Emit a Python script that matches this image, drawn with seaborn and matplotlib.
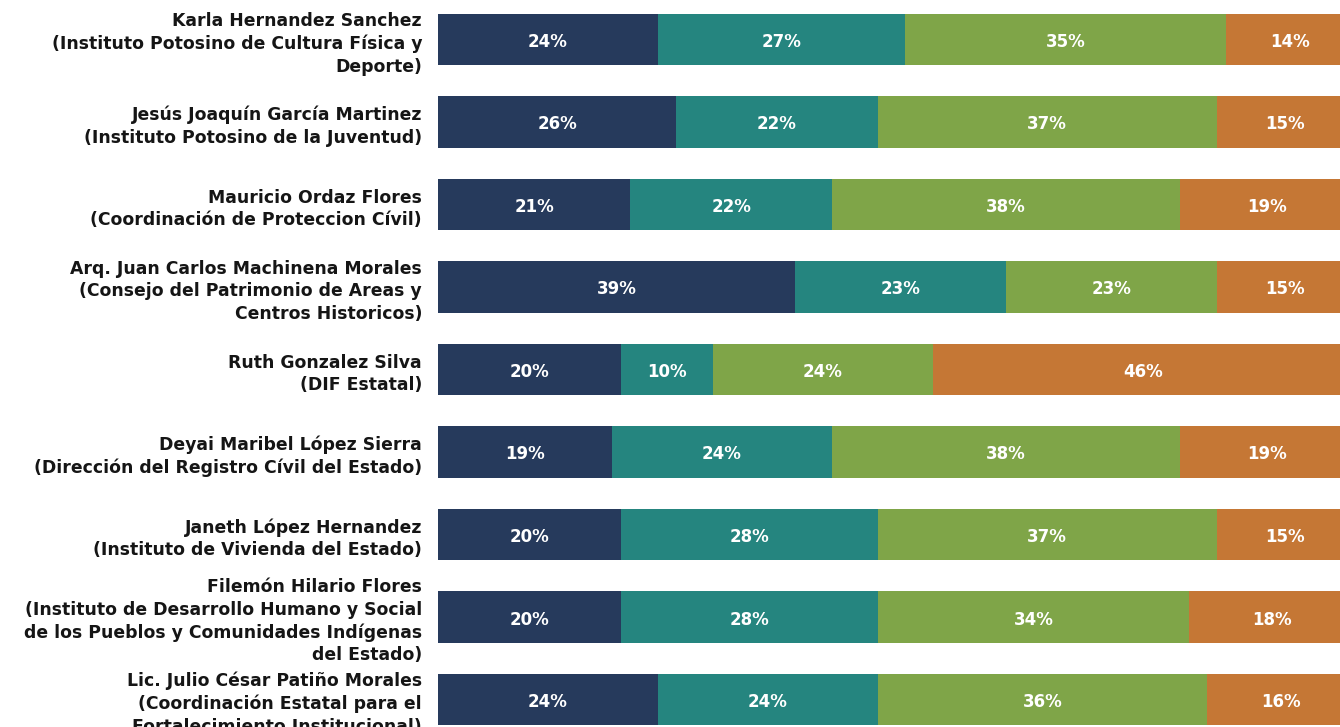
import matplotlib
matplotlib.use("Agg")
import matplotlib.pyplot as plt
import numpy as np
import pandas as pd
import seaborn as sns

# ─── Datos ────────────────────────────────────────────────────────────────────

funcionarios = [
    "Karla Hernandez Sanchez\n(Instituto Potosino de Cultura Física y\nDeporte)",
    "Jesús Joaquín García Martinez\n(Instituto Potosino de la Juventud)",
    "Mauricio Ordaz Flores\n(Coordinación de Proteccion Cívil)",
    "Arq. Juan Carlos Machinena Morales\n(Consejo del Patrimonio de Areas y\nCentros Historicos)",
    "Ruth Gonzalez Silva\n(DIF Estatal)",
    "Deyai Maribel López Sierra\n(Dirección del Registro Cívil del Estado)",
    "Janeth López Hernandez\n(Instituto de Vivienda del Estado)",
    "Filemón Hilario Flores\n(Instituto de Desarrollo Humano y Social\nde los Pueblos y Comunidades Indígenas\ndel Estado)",
    "Lic. Julio César Patiño Morales\n(Coordinación Estatal para el\nFortalecimiento Institucional)",
]

serie_1 = [24, 26, 21, 39, 20, 19, 20, 20, 24]
serie_2 = [27, 22, 22, 23, 10, 24, 28, 28, 24]
serie_3 = [35, 37, 38, 23, 24, 38, 37, 34, 36]
serie_4 = [14, 15, 19, 15, 46, 19, 15, 18, 16]

colores = ["#263a5c", "#25857f", "#7fa548", "#c57735"]

# ─── Gráfico ──────────────────────────────────────────────────────────────────

sns.set_theme(style="white")
plt.rcParams["font.family"] = ["DejaVu Sans"]

df = pd.DataFrame({
    "nombre": funcionarios,
    "s1": serie_1, "s2": serie_2, "s3": serie_3, "s4": serie_4,
})
series = ["s1", "s2", "s3", "s4"]
acum = df[series].cumsum(axis=1)

fig = plt.figure(figsize=(13.4, 7.27), dpi=100)
# la barra sigue un poco más allá del borde derecho (recortada como en el original)
ax = fig.add_axes([438 / 1340, 0, 916 / 1340, 1])

# barras apiladas: de la acumulada total hacia la primera
for col, color in zip(reversed(series), reversed(colores)):
    sns.barplot(x=acum[col], y=df["nombre"], orient="h", color=color,
                saturation=1, width=0.62, linewidth=0, ax=ax)

for i in range(len(df)):
    inicio = 0
    for col in series:
        v = df.loc[i, col]
        ax.text(inicio + v / 2, i + 0.03, f"{v}%", ha="center", va="center",
                color="white", fontsize=12, fontweight="bold")
        inicio += v

ax.set_xlim(0, 100)
ax.set_ylim(8.333, -0.479)
ax.set_yticks(range(len(df)))
ax.set_yticklabels(df["nombre"], ha="right", multialignment="right",
                   fontsize=12.4, fontweight="bold", color="#151515",
                   linespacing=1.32)
ax.tick_params(axis="y", length=0, pad=11.5)
ax.set_xlabel("")
ax.set_ylabel("")
ax.set_xticks([])
sns.despine(ax=ax, left=True, bottom=True)

fig.savefig("out.png", dpi=100)
